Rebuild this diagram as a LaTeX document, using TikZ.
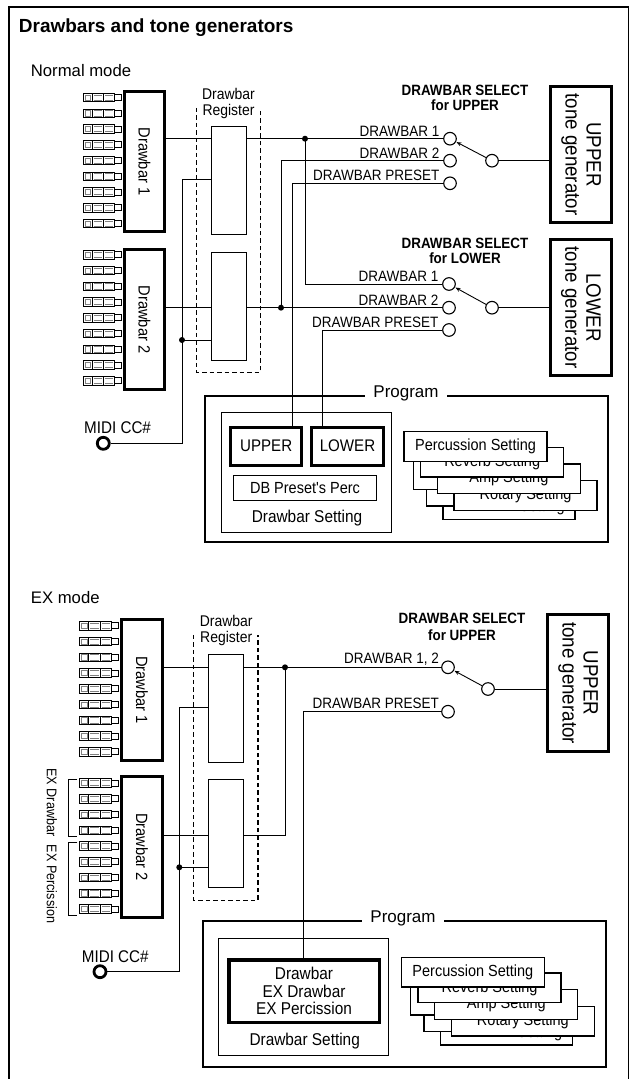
\documentclass[tikz,border=0pt]{standalone}
\usepackage{fontspec}
\setmainfont{Liberation Sans}
\newfontfamily\condf{Liberation Sans}[FakeStretch=0.9]
\usetikzlibrary{arrows.meta}
\newcommand\fsz[1]{\fontsize{#1}{#1}\selectfont}
\tikzset{
 wire/.style={line width=0.9pt},
 box/.style={draw, line width=1.3pt, inner sep=0pt},
 tbox/.style={draw, line width=3pt, inner sep=0pt},
 swc/.style={circle, draw, line width=1.1pt, minimum size=12.6pt, inner sep=0pt, fill=white},
 jdot/.style={circle, fill, inner sep=0pt, minimum size=6pt},
 midic/.style={circle, draw, line width=2.8pt, minimum size=12pt, inner sep=0pt},
 pinl/.style={line width=0.9pt},
 pinin/.style={line width=0.6pt, gray},
 dashbox/.style={line width=1.3pt, dash pattern=on 4.5pt off 3pt},
 reglbl/.style={inner sep=0pt, font=\condf\fsz{15.5}},
 swlbl/.style={inner sep=0pt, font=\condf\fsz{15}},
 sellbl/.style={inner sep=0pt, font=\condf\bfseries\fsz{14.9}},
 rotlbl/.style={inner sep=0pt, rotate=-90, font=\condf\fsz{16.3}},
 tglbl/.style={inner sep=0pt, rotate=-90, align=center, font=\condf\fontsize{20.8}{21}\selectfont},
 modelbl/.style={inner sep=0pt, anchor=base west, font=\fsz{16.7}},
 proglbl/.style={fill=white, inner xsep=8pt, inner ysep=1pt, anchor=base, font=\fsz{17}},
 setlbl/.style={inner sep=0pt, anchor=base, font=\condf\fsz{17.1}},
 card/.style={draw, line width=1.3pt, fill=white, inner sep=0pt, minimum width=143pt, minimum height=29.7pt, font=\condf\fsz{16.1}},
 cardt/.style={inner sep=0pt, font=\condf\fsz{16.1}},
 exlbl/.style={inner sep=0pt, rotate=-90, font=\condf\fsz{14}},
 arr/.style={wire, -{Stealth[length=5pt,width=4pt]}, shorten >=0.5pt},
}
\newcommand\dbpins[2]{%
 \foreach \k in {0,...,8}{%
  \pgfmathsetmacro\yy{#2+15.75*\k}%
  \draw[pinl] (#1-40.3,\yy-4.2) -- (#1-9,\yy-4.2) -- (#1-9,\yy+4.2) -- (#1-40.3,\yy+4.2) -- cycle;
  \draw[pinl] (#1-31.3,\yy-4.2) -- (#1-31.3,\yy+4.2) (#1-19.7,\yy-4.2) -- (#1-19.7,\yy+4.2);
  \draw[pinin] (#1-38.3,\yy-2.7) -- (#1-32.8,\yy-2.7) -- (#1-32.8,\yy+2.7) -- (#1-38.3,\yy+2.7) -- cycle;
  \draw[pinin] (#1-29.8,\yy-2.7) -- (#1-21.2,\yy-2.7) (#1-29.8,\yy+2.7) -- (#1-21.2,\yy+2.7);
  \draw[pinin] (#1-18.2,\yy-2.7) -- (#1-10.5,\yy-2.7) (#1-18.2,\yy+2.7) -- (#1-10.5,\yy+2.7);
  \draw[pinl] (#1-9,\yy-3) rectangle (#1-1.5,\yy+3);
 }}
\newcommand\cardstack[3]{%
 \begin{scope}[shift={(#1,#2)}]
  \node[card, minimum width=132.1pt] (#3c) at (105.7,73.5) {};
  \node[cardt, anchor=base east] (#3ct) at (161.7,80.3) {Setting};
  \node[card, minimum width=138pt] (#3b) at (92.3,60.2) {};
  \node[card, minimum width=138pt] (#3a) at (79,43.5) {};
  \node[card] (#3rot) at (122.2,64.5) {Rotary Setting};
  \node[card] (#3amp) at (105.6,47.8) {Amp Setting};
  \node[card] (#3rev) at (88.9,31.2) {Reverb Setting};
  \node[card] (#3per) at (72.2,15.5) {Percussion Setting};
 \end{scope}}
\begin{document}
\begin{tikzpicture}[x=1pt,y=-1pt]
\useasboundingbox (0,0) rectangle (634,1079);
\draw[line width=1.2pt] (9,1079) -- (9,7) -- (628.3,7) -- (628.3,1079);
\node[anchor=base west, inner sep=0pt, font=\bfseries\fsz{19}] (title) at (18.7,32.3) {Drawbars and tone generators};

% ================= Normal mode =================
\node[modelbl] (nmode) at (30.7,76) {Normal mode};
\node[tbox, minimum width=39.5pt, minimum height=140pt] (db1) at (144.5,161.5) {};
\node[rotlbl] (db1t) at (db1.center) {Drawbar 1};
\node[tbox, minimum width=39.5pt, minimum height=140pt] (db2) at (144.5,319.5) {};
\node[rotlbl] (db2t) at (db2.center) {Drawbar 2};
\dbpins{123.3}{97.5}
\dbpins{123.3}{254.8}

\node[inner sep=0pt, minimum width=63.3pt, minimum height=264pt] (reg) at (228.35,240) {};
\draw[dashbox] (reg.north west) -- (reg.south west) -- (reg.south east) -- (reg.north east);
\node[reglbl, anchor=base] (regt1) at (228.5,99) {Drawbar};
\node[reglbl, anchor=base] (regt2) at (228.5,115) {Register};
\node[box, minimum width=34.5pt, minimum height=107.5pt] (ru) at (229,180.5) {};
\node[box, minimum width=34.5pt, minimum height=107.5pt] (rl) at (229,306.5) {};

\node[sellbl, anchor=base] (selu1) at (465,95.7) {DRAWBAR SELECT};
\node[sellbl, anchor=base] (selu2) at (465,110.7) {for UPPER};
\node[sellbl, anchor=base] (sell1) at (465,248.3) {DRAWBAR SELECT};
\node[sellbl, anchor=base] (sell2) at (465,263.3) {for LOWER};

\node[tbox, minimum width=61pt, minimum height=136pt] (utg) at (581,154.5) {};
\node[tglbl] (utgt) at (utg.center) {UPPER\\tone generator};
\node[tbox, minimum width=61pt, minimum height=136pt] (ltg) at (581,307.5) {};
\node[tglbl] (ltgt) at (ltg.center) {LOWER\\tone generator};

\node[box, minimum width=403pt, minimum height=146pt] (prog) at (406.5,469) {};
\node[proglbl] (progt) at (406,397.5) {Program};
\node[box, minimum width=169.7pt, minimum height=119.7pt] (dbs) at (306.5,472.5) {};
\node[tbox, minimum width=71.3pt, minimum height=38pt, font=\condf\fsz{16.8}] (pu) at (266.2,446.2) {UPPER};
\node[tbox, minimum width=72pt, minimum height=38pt, font=\condf\fsz{16.8}] (pl) at (347.5,446.2) {LOWER};
\node[box, minimum width=142.7pt, minimum height=24.7pt, font=\condf\fsz{16.1}] (dbp) at (305,488) {DB Preset's Perc};
\node[setlbl] (dbst) at (307,522.7) {Drawbar Setting};
\cardstack{403.3}{431}{n}

% switch circles
\node[swc] (su1) at (450,138.7) {};
\node[swc] (su2) at (450,160.7) {};
\node[swc] (su3) at (450,183.3) {};
\node[swc] (suc) at (492,160.7) {};
\node[swc] (sl1) at (449,284) {};
\node[swc] (sl2) at (449,307.7) {};
\node[swc] (sl3) at (449,330) {};
\node[swc] (slc) at (492,307.7) {};
\node[swlbl, anchor=base east] (lsu1) at ([xshift=-3.5pt,yshift=2.7pt]su1.west) {DRAWBAR 1};
\node[swlbl, anchor=base east] (lsu2) at ([xshift=-3.5pt,yshift=2.7pt]su2.west) {DRAWBAR 2};
\node[swlbl, anchor=base east] (lsu3) at ([xshift=-3.5pt,yshift=2.7pt]su3.west) {DRAWBAR PRESET};
\node[swlbl, anchor=base east] (lsl1) at ([xshift=-3.5pt,yshift=2.7pt]sl1.west) {DRAWBAR 1};
\node[swlbl, anchor=base east] (lsl2) at ([xshift=-3.5pt,yshift=2.7pt]sl2.west) {DRAWBAR 2};
\node[swlbl, anchor=base east] (lsl3) at ([xshift=-3.5pt,yshift=2.7pt]sl3.west) {DRAWBAR PRESET};

% wires
\node[jdot] (dA) at (305,138.7) {};
\node[jdot] (dB) at (281,307.7) {};
\node[jdot] (dC) at (182,340) {};
\node[midic] (m1) at (103.3,443.3) {};
\node[inner sep=0pt, anchor=base west, font=\condf\fsz{16.9}] (m1t) at (84,433.3) {MIDI CC\#};
\coordinate (iu) at (182,179.3);
\coordinate (pux) at (292.3,0);
\coordinate (plx) at (322.3,0);
\draw[wire] (db1.east |- su1) -- (ru.west |- su1);
\draw[wire] (ru.east |- su1) -- (su1.west);
\draw[wire] (dA.center) |- (sl1.west);
\draw[wire] (db2.east |- sl2) -- (rl.west |- sl2);
\draw[wire] (rl.east |- sl2) -- (sl2.west);
\draw[wire] (dB.center) |- (su2.west);
\draw[wire] (ru.west |- iu) -- (iu) -- (iu |- m1) -- (m1.east);
\draw[wire] (dC.center) -- (rl.west |- dC);
\draw[wire] (su3.west) -| (pu.north -| pux);
\draw[wire] (sl3.west) -| (pl.north -| plx);
\draw[wire] (suc.east) -- (utg.west |- suc);
\draw[wire] (slc.east) -- (ltg.west |- slc);
\draw[arr] (suc) -- (su1);
\draw[arr] (slc) -- (sl1);

% ================= EX mode =================
\node[modelbl] (xmode) at (30.7,603.3) {EX mode};
\node[tbox, minimum width=41pt, minimum height=140.4pt] (xdb1) at (142,690) {};
\node[rotlbl] (xdb1t) at (xdb1.center) {Drawbar 1};
\node[tbox, minimum width=41pt, minimum height=141pt] (xdb2) at (142,847) {};
\node[rotlbl] (xdb2t) at (xdb2.center) {Drawbar 2};
\dbpins{120}{625.8}
\dbpins{120}{783}
\node[exlbl] (exd) at (52,802.5) {EX Drawbar};
\node[exlbl] (exp) at (52,884) {EX Percission};
\coordinate (b1t) at (77.3,779);
\coordinate (b1b) at (77.3,836);
\coordinate (b2t) at (77.3,842.3);
\coordinate (b2b) at (77.3,915);
\draw[wire] (b1t) -- ++(-9,0) |- (b1b);
\draw[wire] (b2t) -- ++(-9,0) |- (b2b);

\node[inner sep=0pt, minimum width=63.7pt, minimum height=265pt] (xreg) at (225.85,767.5) {};
\draw[dashbox] (xreg.north west) -- (xreg.south west) -- (xreg.south east) -- (xreg.north east);
\node[reglbl, anchor=base] (xregt1) at (226.2,626.7) {Drawbar};
\node[reglbl, anchor=base] (xregt2) at (226.2,642.7) {Register};
\node[box, minimum width=34.5pt, minimum height=107.5pt] (xru) at (226,708.5) {};
\node[box, minimum width=34.5pt, minimum height=107.5pt] (xrl) at (226,833.5) {};

\node[sellbl, anchor=base] (xsel1) at (462,623) {DRAWBAR SELECT};
\node[sellbl, anchor=base] (xsel2) at (462,640) {for UPPER};
\node[tbox, minimum width=61pt, minimum height=137pt] (xtg) at (578,683) {};
\node[tglbl] (xtgt) at (xtg.center) {UPPER\\tone generator};

\node[box, minimum width=403pt, minimum height=146pt] (xprog) at (404.5,994) {};
\node[proglbl] (xprogt) at (403,922.7) {Program};
\node[box, minimum width=169.7pt, minimum height=116.7pt] (xdbs) at (303.5,997) {};
\node[draw, line width=3.5pt, inner sep=0pt, minimum width=150.5pt, minimum height=62.5pt, align=center, font=\condf\fontsize{17.1}{17.5}\selectfont] (xpd) at (304,991) {Drawbar\\EX Drawbar\\EX Percission};
\node[setlbl] (xdbst) at (304.7,1045.7) {Drawbar Setting};
\cardstack{400.7}{956.7}{x}

\node[swc] (xs1) at (448,667.3) {};
\node[swc] (xs2) at (448,711.7) {};
\node[swc] (xsc) at (488,689) {};
\node[swlbl, anchor=base east] (lxs1) at ([xshift=-2pt,yshift=4pt]xs1.west) {DRAWBAR 1, 2};
\node[swlbl, anchor=base east] (lxs2) at ([xshift=-2pt,yshift=3.7pt]xs2.west) {DRAWBAR PRESET};

\node[jdot] (xdA) at (285,667.3) {};
\node[jdot] (xdB) at (179.3,867.3) {};
\node[midic] (xm1) at (100,971.7) {};
\node[inner sep=0pt, anchor=base west, font=\condf\fsz{16.9}] (xm1t) at (81.7,962.3) {MIDI CC\#};
\coordinate (xo2) at (0,835.7);
\coordinate (xiu) at (179.3,707.3);
\coordinate (xpx) at (303.3,0);
\draw[wire] (xdb1.east |- xs1) -- (xru.west |- xs1);
\draw[wire] (xru.east |- xs1) -- (xs1.west);
\draw[wire] (xdb2.east |- xo2) -- (xrl.west |- xo2);
\draw[wire] (xrl.east |- xo2) -| (xdA.center);
\draw[wire] (xru.west |- xiu) -- (xiu) -- (xiu |- xm1) -- (xm1.east);
\draw[wire] (xdB.center) -- (xrl.west |- xdB);
\draw[wire] (xs2.west) -| (xpd.north -| xpx);
\draw[wire] (xsc.east) -- (xtg.west |- xsc);
\draw[arr] (xsc) -- (xs1);
\end{tikzpicture}
\end{document}
